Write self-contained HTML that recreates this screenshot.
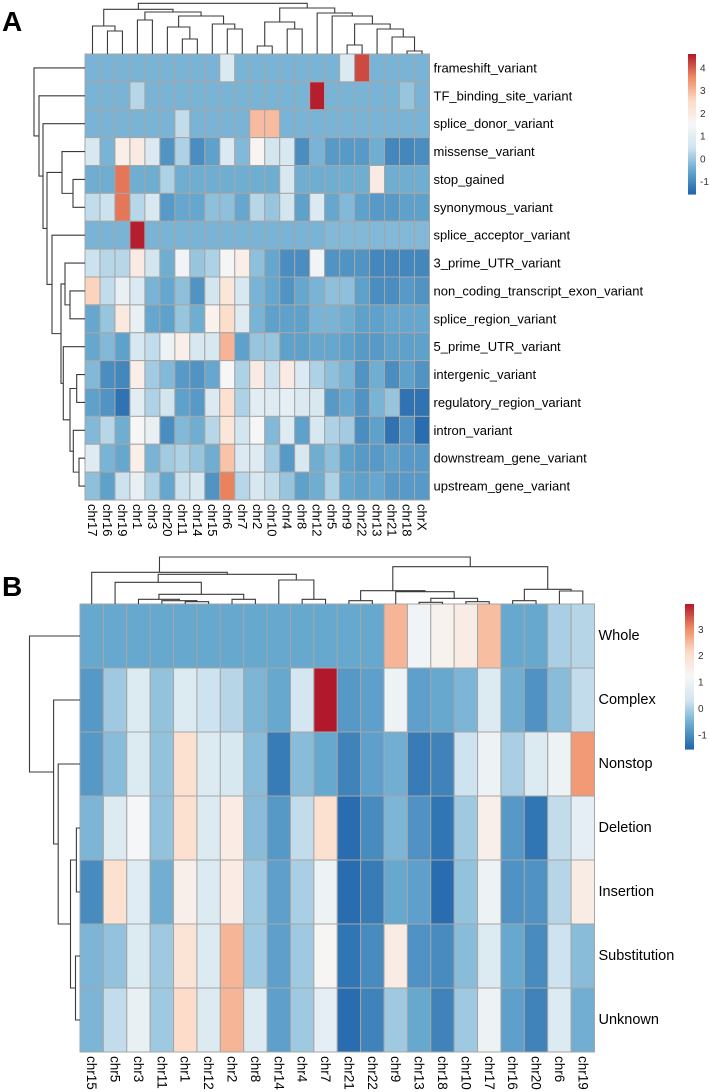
<!DOCTYPE html>
<html><head><meta charset="utf-8"><style>
html,body{margin:0;padding:0;background:#fff;}
svg{display:block;font-family:"Liberation Sans",Arial,sans-serif;}
</style></head><body>
<svg id="chart" width="709" height="1092" viewBox="0 0 709 1092" xmlns="http://www.w3.org/2000/svg">
<text x="2" y="31" font-size="28" font-weight="bold">A</text>
<text x="2" y="596" font-size="28" font-weight="bold">B</text>
</svg>
<script>
const aCols = ["chr17","chr16","chr19","chr1","chr3","chr20","chr11","chr14","chr15","chr6","chr7","chr2","chr10","chr4","chr8","chr12","chr5","chr9","chr22","chr13","chr21","chr18","chrX"];
const aRows = ["frameshift_variant","TF_binding_site_variant","splice_donor_variant","missense_variant","stop_gained","synonymous_variant","splice_acceptor_variant","3_prime_UTR_variant","non_coding_transcript_exon_variant","splice_region_variant","5_prime_UTR_variant","intergenic_variant","regulatory_region_variant","intron_variant","downstream_gene_variant","upstream_gene_variant"];
const aValues = [
[-0.3,-0.3,-0.3,-0.3,-0.3,-0.3,-0.3,-0.3,-0.3,0.8,-0.3,-0.3,-0.3,-0.3,-0.3,-0.3,-0.3,0.8,4.2,-0.3,-0.3,-0.3,-0.3],
[-0.3,-0.3,-0.3,0.3,-0.3,-0.3,-0.3,-0.3,-0.3,-0.3,-0.3,-0.3,-0.3,-0.3,-0.3,4.6,-0.3,-0.3,-0.3,-0.3,-0.3,0.0,-0.3],
[-0.3,-0.3,-0.3,-0.3,-0.3,-0.3,0.4,-0.3,-0.3,-0.3,-0.3,3.0,3.0,-0.3,-0.3,-0.3,-0.3,-0.3,-0.3,-0.3,-0.3,-0.3,-0.3],
[0.7,-0.3,1.9,2.0,0.8,-0.8,0.2,-0.9,-0.6,0.8,-0.2,1.7,0.6,0.7,-0.9,-0.3,-0.7,-0.7,-0.7,-0.4,-1.0,-1.0,-0.9],
[-0.4,-0.4,3.8,-0.4,-0.4,0.2,-0.4,-0.4,-0.4,-0.4,-0.4,-0.4,-0.4,0.7,-0.4,-0.4,-0.4,-0.4,-0.4,2.0,-0.4,-0.4,-0.4],
[0.4,0.5,3.8,0.3,0.7,-0.7,-0.5,-0.5,-0.1,-0.1,-0.5,0.3,0.0,0.6,-0.6,0.8,-0.5,-0.2,-0.6,-0.7,-0.7,-0.6,-0.6],
[-0.3,-0.3,-0.3,4.6,-0.3,-0.3,-0.3,-0.3,-0.3,-0.3,-0.3,-0.3,-0.3,-0.3,-0.3,-0.3,-0.2,-0.2,-0.2,-0.2,-0.2,-0.2,-0.2],
[0.5,0.3,0.3,2.0,0.6,-0.4,1.4,0.0,0.2,1.5,1.9,-0.1,-0.5,-0.9,-0.9,1.4,-0.8,-0.8,-0.8,-1.0,-1.0,-1.0,-1.0],
[2.7,0.4,1.2,0.8,-0.3,-0.5,-0.1,-0.8,0.6,2.2,0.7,-0.3,-0.5,-0.8,-0.5,-0.3,-0.1,-0.1,-0.6,-0.9,-0.9,-0.7,-0.8],
[-0.5,0.0,2.1,1.2,-0.5,-0.6,0.0,-0.4,1.8,2.5,0.9,-0.3,-0.6,-0.6,-0.6,-0.3,-0.3,-0.4,-0.6,-0.6,-0.5,-0.5,-0.5],
[-0.5,-0.2,-0.6,0.7,0.4,1.3,1.9,0.7,0.7,3.1,-0.6,0.0,0.0,-0.6,-0.6,-0.5,-0.5,-0.6,-0.7,-0.7,-0.6,-0.6,-0.6],
[-0.2,-0.9,-1.0,1.9,0.1,-0.2,-0.7,-0.8,-0.5,1.6,0.2,2.0,0.5,2.0,0.8,0.2,-0.1,-0.3,-0.8,-0.4,-0.9,-0.6,-0.8],
[-0.6,-0.8,-1.3,1.0,0.2,0.6,-0.6,-0.7,0.8,2.4,0.2,1.0,0.9,1.1,0.8,0.7,-0.7,-0.5,-0.8,-0.3,0.0,-1.3,-1.3],
[-0.2,0.3,-0.4,1.6,1.2,-0.9,-0.2,-0.4,0.3,2.2,0.6,1.6,-0.2,0.9,-0.6,0.7,0.2,0.1,-0.9,-0.6,-1.3,-0.8,-1.4],
[0.9,-0.3,-0.5,1.9,-0.3,0.1,0.2,0.0,-0.4,2.9,0.8,0.9,0.1,-0.7,0.7,-0.4,-0.1,-0.6,-0.7,-0.7,-0.6,-0.7,-0.7],
[-0.1,-0.6,0.5,1.2,0.2,-0.5,0.5,0.7,-0.8,3.7,0.3,0.7,0.4,0.0,-0.6,-0.4,0.2,-0.5,-0.6,-0.5,-0.7,-0.7,-0.7]
];
const aTicks = [-1,0,1,2,3,4];
const bCols = ["chr15","chr5","chr3","chr11","chr1","chr12","chr2","chr8","chr14","chr4","chr7","chr21","chr22","chr9","chr13","chr18","chr10","chr17","chr16","chr20","chr6","chr19"];
const bRows = ["Whole","Complex","Nonstop","Deletion","Insertion","Substitution","Unknown"];
const bValues = [
[-0.6,-0.6,-0.6,-0.6,-0.6,-0.6,-0.6,-0.6,-0.6,-0.6,-0.6,-0.6,-0.6,2.6,1.1,1.4,1.6,2.5,-0.6,-0.6,0.0,0.1],
[-0.8,-0.1,0.6,-0.2,0.6,0.3,0.1,-0.4,-0.6,0.4,4.0,-0.8,-0.7,1.0,-0.7,-0.6,-0.4,0.6,-0.5,-0.9,-0.3,0.2],
[-0.8,-0.3,0.6,-0.2,2.0,0.6,0.5,-0.3,-1.2,-0.3,-0.6,-1.1,-0.7,-0.5,-1.2,-1.1,0.3,1.0,0.0,0.6,1.0,2.9],
[-0.4,0.6,1.2,-0.2,2.0,0.6,1.6,-0.3,-0.8,0.2,2.0,-1.4,-1.0,-0.4,-0.9,-1.3,-0.1,1.5,-0.8,-1.3,0.2,0.8],
[-1.0,2.0,0.7,-0.5,1.5,0.6,1.6,-0.1,-0.7,0.0,1.0,-1.4,-1.2,-0.6,-0.7,-1.4,-0.2,1.0,-0.9,-0.9,0.1,1.6],
[-0.4,-0.2,0.6,-0.1,1.9,0.6,2.6,-0.1,-0.7,-0.1,1.3,-1.3,-1.0,1.6,-0.9,-1.0,-0.3,0.6,-0.6,-1.0,0.3,-0.3],
[-0.4,0.2,0.9,-0.1,2.1,0.6,2.6,0.6,-0.7,-0.1,0.8,-1.4,-1.1,-0.1,-0.6,-1.1,-0.1,1.0,-0.7,-1.1,0.6,-0.5]
];
const bTicks = [-1,0,1,2,3];

const NS="http://www.w3.org/2000/svg";
const svg=document.getElementById('chart');
const pal=[[0x21,0x66,0xAC],[0x67,0xA9,0xCF],[0xD1,0xE5,0xF0],[0xF7,0xF7,0xF7],[0xFD,0xDB,0xC7],[0xEF,0x8A,0x62],[0xB2,0x18,0x2B]];
function color(v,min,max){
  let t=(v-min)/(max-min); t=Math.max(0,Math.min(1,t));
  const s=t*(pal.length-1); const i=Math.min(pal.length-2,Math.floor(s)); const f=s-i;
  const c=pal[i].map((a,k)=>Math.round(a+(pal[i+1][k]-a)*f));
  return `rgb(${c[0]},${c[1]},${c[2]})`;
}
function mk(tag,attrs,parent){const e=document.createElementNS(NS,tag);for(const k in attrs)e.setAttribute(k,attrs[k]);(parent||svg).appendChild(e);return e;}

function heatmap(p){
  const g=mk('g',{});
  
  
  const cw=(p.x1-p.x0)/p.cols.length, rh=(p.y1-p.y0)/p.rows.length;
  const xs=i=>p.x0+i*cw, ys=j=>p.y0+j*rh;
  p.values.forEach((row,j)=>row.forEach((v,i)=>{
    const r=mk('rect',{x:xs(i),y:ys(j),width:cw,height:rh,fill:color(v,p.min,p.max),stroke:'#a6a6a6','stroke-width':1},g);
    
    
  }));
  p.rows.forEach((n,j)=>{
    const t=mk('text',{x:p.x1+4,y:ys(j)+rh/2,'font-size':p.rowFont,'dominant-baseline':'central',fill:'#000'},g);
    t.textContent=n;
    
    
  });
  p.cols.forEach((n,i)=>{
    const cx=xs(i)+cw/2, y=p.y1+4;
    const t=mk('text',{x:0,y:0,'font-size':p.colFont,'dominant-baseline':'central',fill:'#000',transform:`translate(${cx},${y}) rotate(90)`},g);
    t.textContent=n;
    
    
  });
  // legend
  const L=p.leg, lg=mk('g',{});
  
  
  const steps=60, hh=(L.y1-L.y0)/steps;
  for(let k=0;k<steps;k++){
    const v=p.max-(k+0.5)/steps*(p.max-p.min);
    mk('rect',{x:L.x,y:L.y0+k*hh,width:L.w,height:hh+0.6,fill:color(v,p.min,p.max)},lg);
  }
  const vy=v=>L.y0+(p.max-v)/(p.max-p.min)*(L.y1-L.y0);
  p.ticks.forEach(v=>{
    const t=mk('text',{x:L.x+L.w+4,y:vy(v),'font-size':10,'dominant-baseline':'central',fill:'#333'},lg);
    t.textContent=v;
    
    
  });
  return {cw,rh,xs,ys};
}

function dendro(tree,leafPos,edge,horizontal,name){
  const g=mk('g',{fill:'none',stroke:'#3a3a3a','stroke-width':1.1});
  
  
  let d='';
  function walk(n){
    if(typeof n==='number') return {p:leafPos(n),l:edge};
    const a=walk(n[0]), b=walk(n[1]), h=n[2];
    if(horizontal){ // top dendrogram: p=x, l=y
      d+=`M${a.p},${a.l}V${h}H${b.p}V${b.l}`;
    } else { // left dendrogram: p=y, l=x
      d+=`M${a.l},${a.p}H${h}V${b.p}H${b.l}`;
    }
    return {p:(a.p+b.p)/2,l:h};
  }
  const r=walk(tree);
  mk('path',{d:d},g);
}

// Panel A
const A=heatmap({name:'panel-a',cols:aCols,rows:aRows,values:aValues,x0:85,x1:429.5,y0:54,y1:500,min:-1.5,max:4.65,rowFont:13,colFont:13,ticks:aTicks,leg:{x:688,w:8,y0:54,y1:194}});
const aTop=[[[0,[1,2,31],26],[[3,4,20],[[5,[6,7,39],27],[8,[9,10,29],24],16],12],9.3],
  [[[11,12,46],[13,14,29],22],[15,[16,[[17,18,45],[19,[20,[21,22,51],37],29],24],16],13],8],3.3];
dendro(aTop,i=>A.xs(i)+A.cw/2,54,true,'panel-a-column-dendrogram');
const aLeft=[0,[1,[2,[[3,[4,5,73],62],[6,[[7,[8,9,70],65],[10,[[11,12,76.7],[13,[14,15,79],73.3],70],63.3],61],52],47],43],39],34];
dendro(aLeft,j=>A.ys(j)+A.rh/2,85,false,'panel-a-row-dendrogram');

// Panel B
const B=heatmap({name:'panel-b',cols:bCols,rows:bRows,values:bValues,x0:80,x1:594.5,y0:604,y1:1052,min:-1.5,max:4.0,rowFont:14.5,colFont:13.5,ticks:bTicks,leg:{x:685,w:9,y0:604,y1:749}});
const bTop=[[0,[[1,[[2,[3,[4,5,601.7],600.7],599.3],[6,7,599.3],594.3],582.3],[8,[9,10,599.3],580],574.3],572.3],
  [[[11,12,600.7],[13,[[14,15,602.3],[16,17,601.7],598.3],591.7],590.7],[[18,19,600.7],[20,21,591],589.3],566.7],557];
dendro(bTop,i=>B.xs(i)+B.cw/2,604,true,'panel-b-column-dendrogram');
const bLeft=[0,[1,[2,[[3,4,76.4],[5,6,75.5],70.5],58.2],53.6],29.5];
dendro(bLeft,j=>B.ys(j)+B.rh/2,80,false,'panel-b-row-dendrogram');
</script>
</body></html>
